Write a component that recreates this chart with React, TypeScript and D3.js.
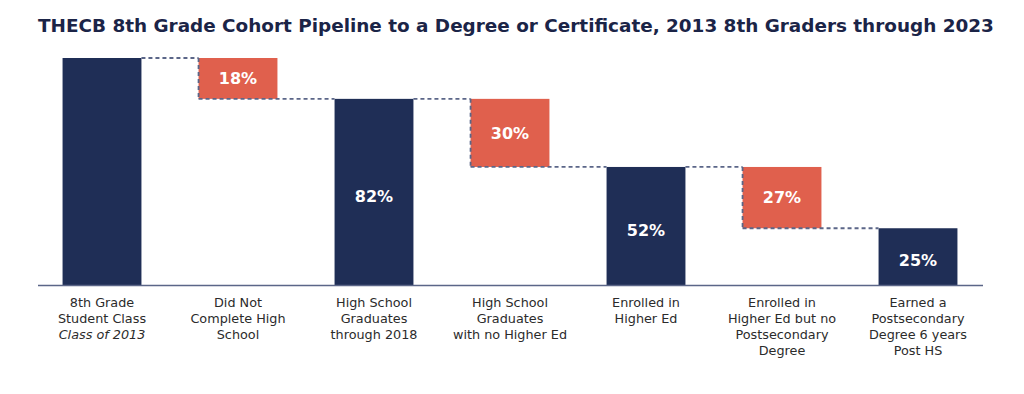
import React, { useEffect, useRef } from 'react';
import * as d3 from 'd3';

const categories = [
  ['8th Grade', 'Student Class', 'Class of 2013'],
  ['Did Not', 'Complete High', 'School'],
  ['High School', 'Graduates', 'through 2018'],
  ['High School', 'Graduates', 'with no Higher Ed'],
  ['Enrolled in', 'Higher Ed'],
  ['Enrolled in', 'Higher Ed but no', 'Postsecondary', 'Degree'],
  ['Earned a', 'Postsecondary', 'Degree 6 years', 'Post HS'],
];
// value of each step, and whether it is a loss (floating box) or a total
const values = [100, 18, 82, 30, 52, 27, 25];
const kinds = ['total', 'loss', 'total', 'loss', 'total', 'loss', 'total'];
const valueLabels = ['', '18%', '82%', '30%', '52%', '27%', '25%'];

const NAVY = '#1f2e56';
const RED = '#e0604d';
const DASH = '#5b6688';

const App: React.FC = () => {
  const svgRef = useRef<SVGSVGElement>(null);

  useEffect(() => {
    if (!svgRef.current) return;
    const width = 1024;
    const height = 394;
    const baseY = 285;
    const topY = 58;

    const svg = d3.select(svgRef.current);
    svg.selectAll('*').remove();

    svg.append('text')
      .attr('x', 38)
      .attr('y', 31.5)
      .attr('font-family', '"DejaVu Sans", sans-serif')
      .attr('font-weight', 700)
      .attr('font-size', 18.4)
      .attr('fill', '#1b2447')
      .text('THECB 8th Grade Cohort Pipeline to a Degree or Certificate, 2013 8th Graders through 2023');

    const x = d3.scaleBand<number>()
      .domain(d3.range(values.length))
      .range([34, 986])
      .paddingInner(0.42)
      .paddingOuter(0.21);

    const y = d3.scaleLinear().domain([0, 100]).range([baseY, topY]);

    // running level for the waterfall
    const steps: { i: number; top: number; bottom: number }[] = [];
    let level = 0;
    values.forEach((v, i) => {
      if (kinds[i] === 'total') {
        level = v;
        steps.push({ i, top: v, bottom: 0 });
      } else {
        steps.push({ i, top: level, bottom: level - v });
        level = level - v;
      }
    });

    const g = svg.append('g');

    g.selectAll('rect.bar')
      .data(steps)
      .enter().append('rect')
      .attr('class', 'bar')
      .attr('x', d => x(d.i)!)
      .attr('y', d => y(d.top))
      .attr('width', x.bandwidth())
      .attr('height', d => y(d.bottom) - y(d.top))
      .attr('fill', d => kinds[d.i] === 'total' ? NAVY : RED);

    // dashed connectors
    const dashed = g.append('g')
      .attr('stroke', DASH)
      .attr('stroke-width', 1.8)
      .attr('stroke-dasharray', '4,3')
      .attr('fill', 'none');
    steps.forEach(d => {
      if (kinds[d.i] !== 'loss') return;
      const left = x(d.i)!;
      const prevRight = x(d.i - 1)! + x.bandwidth();
      const nextLeft = x(d.i + 1)!;
      dashed.append('line')
        .attr('x1', prevRight).attr('x2', left)
        .attr('y1', y(d.top)).attr('y2', y(d.top));
      dashed.append('line')
        .attr('x1', left).attr('x2', left)
        .attr('y1', y(d.top)).attr('y2', y(d.bottom));
      dashed.append('line')
        .attr('x1', left).attr('x2', nextLeft)
        .attr('y1', y(d.bottom)).attr('y2', y(d.bottom));
    });

    // value labels
    g.selectAll('text.val')
      .data(steps.filter(d => valueLabels[d.i]))
      .enter().append('text')
      .attr('class', 'val')
      .attr('x', d => x(d.i)! + x.bandwidth() / 2)
      .attr('y', d => (y(d.top) + y(d.bottom)) / 2 + (kinds[d.i] === 'total' ? 4 : 0))
      .attr('dy', '0.35em')
      .attr('text-anchor', 'middle')
      .attr('font-family', '"DejaVu Sans", sans-serif')
      .attr('font-weight', 700)
      .attr('font-size', 16)
      .attr('fill', '#ffffff')
      .text(d => valueLabels[d.i]);

    // baseline
    g.append('line')
      .attr('x1', 38).attr('x2', 983)
      .attr('y1', baseY + 0.5).attr('y2', baseY + 0.5)
      .attr('stroke', '#5b6688')
      .attr('stroke-width', 1.5);

    // category labels
    const labels = g.selectAll('text.cat')
      .data(categories)
      .enter().append('text')
      .attr('class', 'cat')
      .attr('x', (_, i) => x(i)! + x.bandwidth() / 2)
      .attr('y', 307)
      .attr('text-anchor', 'middle')
      .attr('font-family', '"DejaVu Sans", sans-serif')
      .attr('font-size', 12.8)
      .attr('fill', '#2b2b2b');
    labels.each(function (lines, i) {
      const t = d3.select(this);
      lines.forEach((line, j) => {
        t.append('tspan')
          .attr('x', x(i)! + x.bandwidth() / 2)
          .attr('dy', j === 0 ? 0 : 16)
          .attr('font-style', i === 0 && j === 2 ? 'italic' : 'normal')
          .text(line);
      });
    });

    svg.attr('width', width).attr('height', height);
  }, []);

  return (
    <svg ref={svgRef} width={1024} height={394}
      style={{ position: 'absolute', left: 0, top: 0, background: '#fff' }} />
  );
};

export default App;
